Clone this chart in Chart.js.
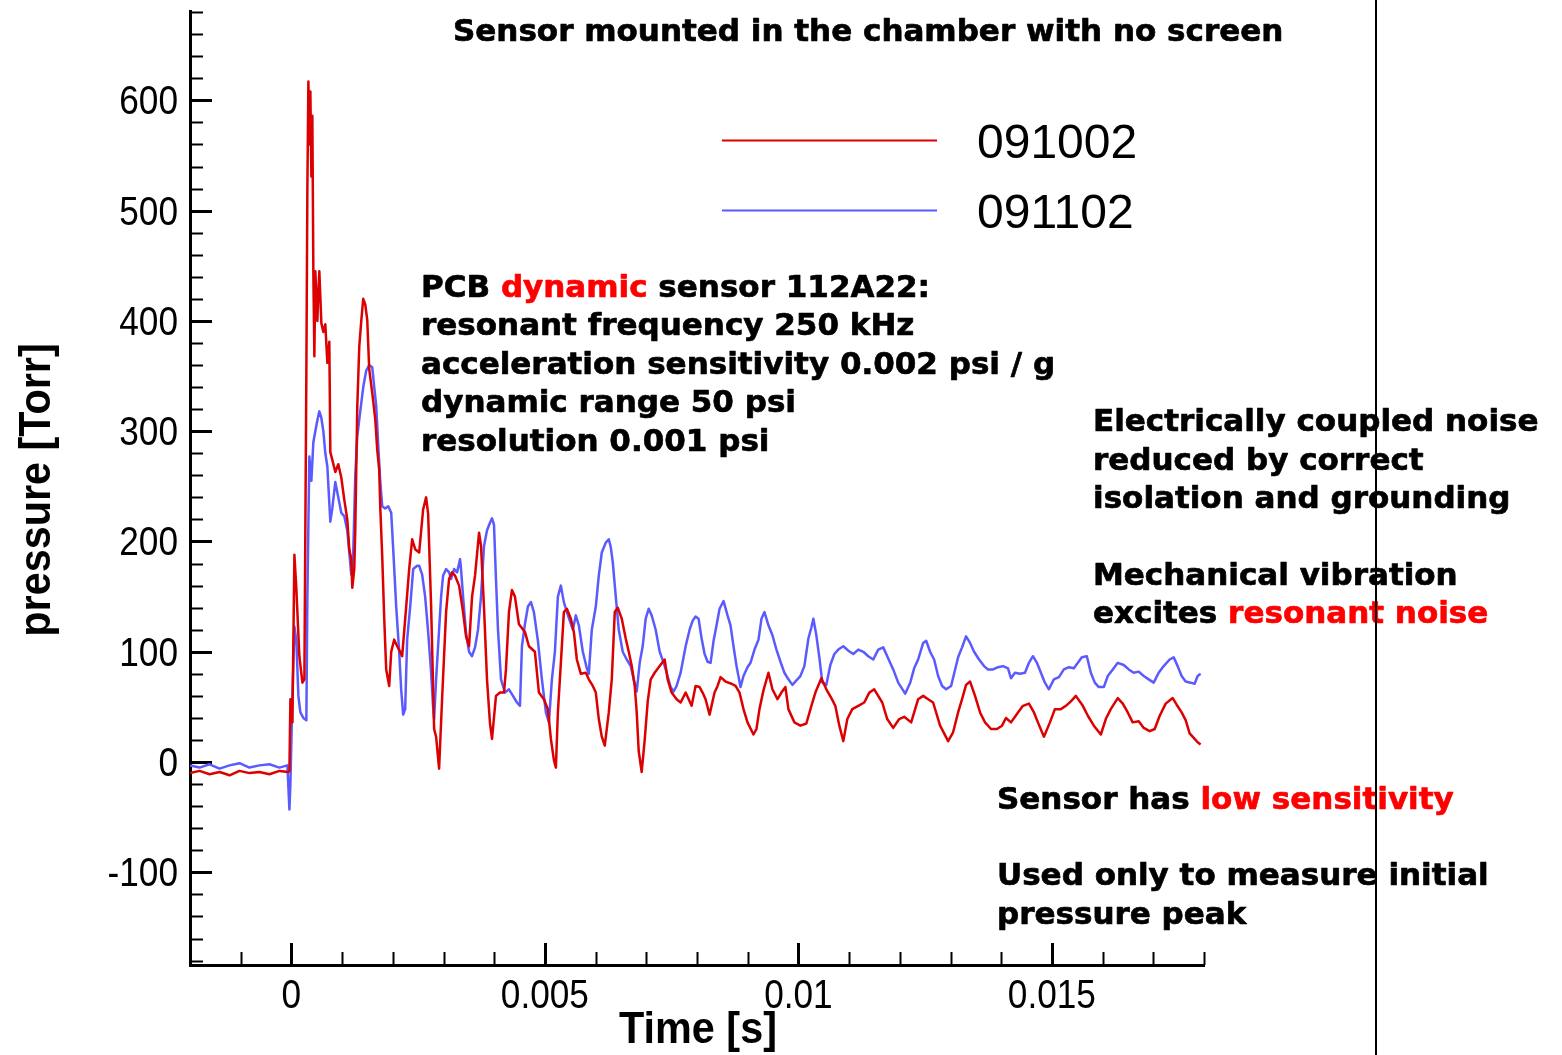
<!DOCTYPE html>
<html>
<head>
<meta charset="utf-8">
<script src="https://cdn.jsdelivr.net/npm/chart.js@4.4.1/dist/chart.umd.min.js"></script>
<style>
  html, body { margin: 0; padding: 0; background: #ffffff; }
  #wrap { width: 1562px; height: 1055px; position: relative; }
</style>
</head>
<body>
<div id="wrap"><canvas id="c" width="1562" height="1055"></canvas></div>
<script>
// Pressure traces of two shots, time in milliseconds, pressure in Torr.
const shotLabels = ['091002', '091102'];

const redTimeMs = [
  -2.0, -1.811, -1.614, -1.417, -1.22, -1.024, -0.827, -0.63, -0.433, -0.236,
  -0.059, -0.039, -0.02, 0.02, 0.059, 0.098, 0.157, 0.217, 0.256, 0.295,
  0.315, 0.335, 0.354, 0.374, 0.394, 0.413, 0.433, 0.453, 0.472, 0.512,
  0.531, 0.551, 0.591, 0.63, 0.669, 0.709, 0.748, 0.768, 0.807, 0.866,
  0.925, 0.984, 1.043, 1.102, 1.142, 1.181, 1.201, 1.24, 1.26, 1.299,
  1.339, 1.378, 1.417, 1.457, 1.496, 1.535, 1.594, 1.654, 1.693, 1.732,
  1.752, 1.791, 1.831, 1.87, 1.929, 1.969, 2.028, 2.087, 2.146, 2.185,
  2.264, 2.323, 2.382, 2.441, 2.52, 2.598, 2.657, 2.697, 2.756, 2.815,
  2.854, 2.913, 2.972, 3.051, 3.11, 3.169, 3.228, 3.307, 3.386, 3.445,
  3.504, 3.563, 3.622, 3.701, 3.74, 3.799, 3.858, 3.917, 3.957, 4.035,
  4.114, 4.193, 4.232, 4.291, 4.35, 4.409, 4.488, 4.606, 4.685, 4.803,
  4.882, 4.98, 5.059, 5.118, 5.177, 5.217, 5.256, 5.315, 5.374, 5.433,
  5.512, 5.571, 5.63, 5.709, 5.807, 5.866, 5.945, 6.004, 6.063, 6.122,
  6.181, 6.26, 6.319, 6.378, 6.437, 6.516, 6.594, 6.654, 6.713, 6.772,
  6.811, 6.85, 6.909, 6.968, 7.028, 7.087, 7.165, 7.264, 7.362, 7.421,
  7.5, 7.598, 7.677, 7.776, 7.894, 7.972, 8.051, 8.11, 8.169, 8.248,
  8.346, 8.406, 8.465, 8.563, 8.681, 8.76, 8.839, 8.917, 8.996, 9.114,
  9.173, 9.232, 9.311, 9.409, 9.488, 9.587, 9.665, 9.744, 9.803, 9.921,
  10.039, 10.157, 10.256, 10.335, 10.453, 10.551, 10.65, 10.728, 10.807, 10.886,
  10.965, 11.063, 11.181, 11.299, 11.398, 11.496, 11.654, 11.752, 11.87, 11.988,
  12.087, 12.224, 12.362, 12.461, 12.559, 12.657, 12.795, 12.953, 13.051, 13.15,
  13.228, 13.307, 13.386, 13.484, 13.583, 13.681, 13.799, 13.917, 14.016, 14.094,
  14.193, 14.331, 14.429, 14.547, 14.646, 14.724, 14.843, 14.961, 15.059, 15.177,
  15.276, 15.374, 15.472, 15.61, 15.709, 15.827, 15.965, 16.063, 16.161, 16.299,
  16.398, 16.496, 16.594, 16.713, 16.811, 16.929, 17.028, 17.126, 17.244, 17.382,
  17.461, 17.559, 17.638, 17.717, 17.815, 17.874, 17.933
];
const redTorr = [
  -10, -8, -11, -9, -12, -8, -10, -9, -11, -8,
  -9, -8, 57, 36, 188, 157, 96, 72, 75, 353,
  520, 617, 560, 608, 531, 586, 444, 368, 445, 400,
  426, 445, 398, 390, 397, 362, 381, 281, 274, 263,
  270, 258, 238, 220, 193, 184, 158, 175, 211, 322,
  377, 400, 420, 415, 401, 356, 335, 311, 283, 265,
  232, 187, 130, 84, 69, 100, 111, 105, 100, 96,
  141, 175, 202, 193, 190, 229, 240, 225, 141, 30,
  23, -6, 57, 136, 166, 172, 169, 160, 136, 114,
  105, 150, 169, 208, 196, 140, 75, 35, 21, 60,
  63, 63, 84, 136, 156, 150, 125, 118, 105, 100,
  63, 57, 48, 21, 2, -5, 45, 90, 136, 139,
  130, 118, 93, 80, 81, 75, 69, 63, 39, 23,
  15, 45, 75, 136, 140, 130, 112, 100, 87, 69,
  45, 10, -9, 20, 55, 75, 81, 87, 93, 75,
  63, 57, 54, 63, 51, 69, 68, 63, 57, 43,
  63, 69, 77, 73, 71, 69, 63, 48, 36, 25,
  30, 48, 65, 81, 66, 57, 63, 68, 48, 36,
  33, 35, 51, 63, 76, 66, 58, 51, 33, 19,
  39, 48, 51, 54, 63, 66, 54, 39, 31, 39,
  41, 36, 57, 60, 57, 54, 33, 19, 27, 45,
  57, 70, 73, 60, 45, 36, 30, 30, 33, 40,
  36, 45, 51, 53, 45, 36, 23, 36, 48, 48,
  51, 55, 60, 51, 42, 33, 25, 39, 48, 58,
  53, 45, 36, 37, 31, 28, 30, 42, 53, 58,
  52, 45, 38, 26, 21, 18, 16
];

const blueTimeMs = [
  -2.0, -1.811, -1.614, -1.417, -1.22, -1.024, -0.827, -0.63, -0.433, -0.236,
  -0.079, -0.039, -0.02, 0.02, 0.059, 0.098, 0.138, 0.177, 0.236, 0.295,
  0.315, 0.354, 0.394, 0.433, 0.472, 0.512, 0.551, 0.591, 0.63, 0.669,
  0.709, 0.768, 0.807, 0.866, 0.925, 0.984, 1.043, 1.102, 1.142, 1.181,
  1.22, 1.26, 1.299, 1.358, 1.417, 1.476, 1.535, 1.594, 1.634, 1.673,
  1.713, 1.752, 1.791, 1.85, 1.909, 1.969, 2.008, 2.067, 2.126, 2.165,
  2.205, 2.244, 2.283, 2.343, 2.402, 2.48, 2.52, 2.579, 2.638, 2.697,
  2.756, 2.795, 2.815, 2.854, 2.913, 2.953, 2.992, 3.051, 3.11, 3.15,
  3.209, 3.268, 3.327, 3.346, 3.386, 3.445, 3.504, 3.563, 3.622, 3.681,
  3.74, 3.799, 3.858, 3.917, 3.957, 3.996, 4.035, 4.075, 4.134, 4.213,
  4.291, 4.37, 4.449, 4.508, 4.547, 4.606, 4.665, 4.724, 4.783, 4.862,
  4.941, 5.02, 5.079, 5.138, 5.197, 5.256, 5.315, 5.374, 5.433, 5.492,
  5.551, 5.61, 5.669, 5.748, 5.827, 5.866, 5.925, 6.004, 6.063, 6.122,
  6.201, 6.26, 6.299, 6.339, 6.398, 6.457, 6.535, 6.614, 6.693, 6.752,
  6.811, 6.87, 6.929, 6.988, 7.047, 7.106, 7.185, 7.264, 7.343, 7.402,
  7.48, 7.539, 7.598, 7.677, 7.776, 7.854, 7.913, 7.972, 8.031, 8.091,
  8.15, 8.209, 8.268, 8.327, 8.386, 8.445, 8.524, 8.602, 8.661, 8.72,
  8.78, 8.858, 8.917, 8.996, 9.055, 9.134, 9.213, 9.272, 9.331, 9.409,
  9.488, 9.567, 9.646, 9.724, 9.803, 9.882, 9.961, 10.039, 10.118, 10.197,
  10.256, 10.295, 10.354, 10.413, 10.472, 10.551, 10.63, 10.709, 10.787, 10.886,
  10.984, 11.083, 11.181, 11.28, 11.378, 11.476, 11.575, 11.673, 11.772, 11.87,
  11.969, 12.106, 12.205, 12.283, 12.362, 12.461, 12.52, 12.598, 12.677, 12.756,
  12.835, 12.913, 13.012, 13.091, 13.15, 13.228, 13.307, 13.386, 13.465, 13.563,
  13.661, 13.74, 13.839, 13.937, 14.035, 14.134, 14.193, 14.272, 14.37, 14.469,
  14.547, 14.626, 14.705, 14.783, 14.862, 14.941, 15.039, 15.138, 15.236, 15.335,
  15.433, 15.512, 15.591, 15.689, 15.768, 15.846, 15.925, 16.024, 16.102, 16.201,
  16.299, 16.417, 16.516, 16.614, 16.713, 16.811, 16.909, 17.008, 17.106, 17.205,
  17.323, 17.402, 17.48, 17.559, 17.638, 17.736, 17.815, 17.874, 17.933
];
const blueTorr = [
  -3, -5, -2, -6, -3, -1, -5, -3, -2, -5,
  -3, -43, -20, 60, 123, 110, 60, 45, 40, 38,
  150, 277, 255, 290, 300, 310, 318, 312, 300, 280,
  268, 218, 230, 254, 240, 226, 223, 210, 190, 170,
  190, 260, 295, 318, 340, 355, 360, 358, 340, 323,
  287, 255, 232, 230, 232, 226, 193, 141, 100, 66,
  43, 48, 111, 141, 175, 178, 178, 170, 150, 118,
  81, 50, 39, 75, 120, 150, 169, 175, 172, 166,
  175, 172, 184, 175, 150, 117, 100, 96, 104, 120,
  150, 196, 210, 217, 221, 215, 166, 120, 75, 63,
  66, 60, 54, 51, 105, 125, 141, 145, 136, 110,
  75, 45, 36, 75, 100, 150, 160, 145, 136, 128,
  120, 133, 124, 100, 85, 80, 120, 141, 169, 190,
  199, 202, 195, 181, 150, 120, 100, 93, 87, 75,
  64, 90, 105, 130, 139, 133, 120, 100, 90, 81,
  68, 64, 69, 81, 105, 120, 128, 132, 130, 112,
  98, 91, 90, 110, 124, 139, 146, 133, 124, 105,
  87, 68, 78, 86, 90, 102, 111, 130, 136, 124,
  115, 102, 91, 81, 75, 70, 74, 78, 87, 112,
  122, 130, 115, 95, 72, 70, 88, 98, 102, 105,
  101, 98, 102, 100, 96, 93, 102, 104, 94, 84,
  72, 62, 72, 85, 93, 108, 110, 100, 93, 78,
  69, 66, 69, 84, 95, 104, 114, 108, 100, 93,
  87, 84, 84, 86, 87, 85, 76, 81, 80, 81,
  90, 96, 90, 81, 72, 66, 75, 77, 84, 86,
  85, 90, 95, 96, 81, 72, 68, 68, 78, 84,
  90, 88, 84, 81, 82, 78, 75, 72, 81, 87,
  93, 95, 87, 78, 73, 72, 71, 78, 80
];

// Axis tick values, labels and titles
const yTickValues = [-100, 0, 100, 200, 300, 400, 500, 600];
const yTickLabels = ['-100', '0', '100', '200', '300', '400', '500', '600'];
const xTickValues = [0, 0.005, 0.01, 0.015];
const xTickLabels = ['0', '0.005', '0.01', '0.015'];
const xTitle = 'Time [s]';
const yTitle = 'pressure [Torr]';

const RED = '#dc0000';
const BLUE = '#5a5aff';
const NOTE_RED = '#ff0000';

function toPoints(tMs, vals) {
  return tMs.map((t, i) => ({ x: t / 1000, y: vals[i] }));
}

const SANS = "'Liberation Sans', Arial, Helvetica, sans-serif";
const BOLDFACE = "'DejaVu Sans', Verdana, sans-serif";

// Text squeezed horizontally, like the plotting package's narrow stroke font
function narrowText(ctx, txt, x, y, sx, align, rot) {
  ctx.save();
  ctx.translate(x, y);
  if (rot) ctx.rotate(rot);
  ctx.scale(sx, 1);
  ctx.textAlign = align;
  ctx.fillText(txt, 0, 0);
  ctx.restore();
}

// Inward major/minor tick marks plus axis labels, placed by the chart's scales
const axisDecor = {
  id: 'axisDecor',
  beforeDatasetsDraw(chart) {
    const { ctx, scales: { x, y }, chartArea: a } = chart;
    ctx.save();
    ctx.strokeStyle = '#000';
    ctx.lineCap = 'butt';
    for (let v = -180; v <= 680; v += 20) {
      const py = Math.round(y.getPixelForValue(v)) + 0.5;
      const major = v % 100 === 0;
      ctx.lineWidth = major ? 3 : 2;
      ctx.beginPath();
      ctx.moveTo(a.left, py);
      ctx.lineTo(a.left + (major ? 22 : 13), py);
      ctx.stroke();
    }
    for (let m = -1; m <= 18; m += 1) {
      const px = Math.round(x.getPixelForValue(m / 1000)) + 0.5;
      const major = m % 5 === 0;
      ctx.lineWidth = major ? 3 : 2;
      ctx.beginPath();
      ctx.moveTo(px, a.bottom);
      ctx.lineTo(px, a.bottom - (major ? 22 : 13));
      ctx.stroke();
    }

    ctx.fillStyle = '#000';
    ctx.textBaseline = 'alphabetic';
    ctx.font = '40px ' + SANS;
    yTickValues.forEach((v, i) => {
      narrowText(ctx, yTickLabels[i], a.left - 12, y.getPixelForValue(v) + 14, 0.88, 'right');
    });
    xTickValues.forEach((v, i) => {
      narrowText(ctx, xTickLabels[i], x.getPixelForValue(v), a.bottom + 43, 0.88, 'center');
    });

    ctx.font = 'bold 44px ' + SANS;
    narrowText(ctx, xTitle, (a.left + a.right) / 2 + 1, 1043, 0.94, 'center');
    narrowText(ctx, yTitle, 50, (a.top + a.bottom) / 2 + 2, 0.94, 'center', -Math.PI / 2);
    ctx.restore();
  }
};

// Legend, title, notes and the divider line
const overlay = {
  id: 'overlay',
  afterDraw(chart) {
    const ctx = chart.ctx;
    const ds = chart.data.datasets;
    ctx.save();

    const legendRows = [140, 210];
    ds.forEach((d, i) => {
      ctx.strokeStyle = d.borderColor;
      ctx.lineWidth = 2;
      ctx.beginPath();
      ctx.moveTo(722, legendRows[i] + 0.5);
      ctx.lineTo(937, legendRows[i] + 0.5);
      ctx.stroke();
      ctx.fillStyle = '#000';
      ctx.font = '48px ' + SANS;
      ctx.textBaseline = 'alphabetic';
      ctx.textAlign = 'left';
      ctx.fillText(d.label, 977, legendRows[i] + 18);
    });

    ctx.font = 'bold 31px ' + BOLDFACE;
    ctx.textBaseline = 'alphabetic';
    ctx.textAlign = 'left';
    ctx.lineJoin = 'round';
    ctx.lineWidth = 0.7;
    const K = '#000';
    const notes = [
      [453, 41, [['Sensor mounted in the chamber with no screen', K]]],
      [421, 297, [['PCB ', K], ['dynamic', NOTE_RED], [' sensor 112A22:', K]]],
      [421, 335, [['resonant frequency 250 kHz', K]]],
      [421, 374, [['acceleration sensitivity 0.002 psi / g', K]]],
      [421, 412, [['dynamic range 50 psi', K]]],
      [421, 451, [['resolution 0.001 psi', K]]],
      [1093, 431, [['Electrically coupled noise', K]]],
      [1093, 470, [['reduced by correct', K]]],
      [1093, 508, [['isolation and grounding', K]]],
      [1093, 585, [['Mechanical vibration', K]]],
      [1093, 623, [['excites ', K], ['resonant noise', NOTE_RED]]],
      [997, 809, [['Sensor has ', K], ['low sensitivity', NOTE_RED]]],
      [997, 885, [['Used only to measure initial', K]]],
      [997, 924, [['pressure peak', K]]]
    ];
    notes.forEach(([x0, y0, parts]) => {
      let xx = x0;
      parts.forEach(([txt, col]) => {
        ctx.fillStyle = col;
        ctx.strokeStyle = col;
        ctx.fillText(txt, xx, y0);
        ctx.strokeText(txt, xx, y0);
        xx += ctx.measureText(txt).width;
      });
    });

    ctx.strokeStyle = '#000';
    ctx.lineWidth = 2;
    ctx.beginPath();
    ctx.moveTo(1376, 0);
    ctx.lineTo(1376, 1055);
    ctx.stroke();
    ctx.restore();
  }
};

new Chart(document.getElementById('c'), {
  type: 'line',
  data: {
    datasets: [
      { label: shotLabels[0], data: toPoints(redTimeMs, redTorr), borderColor: RED },
      { label: shotLabels[1], data: toPoints(blueTimeMs, blueTorr), borderColor: BLUE }
    ]
  },
  options: {
    responsive: false,
    devicePixelRatio: 1,
    animation: false,
    parsing: false,
    elements: {
      point: { radius: 0 },
      line: { borderWidth: 2.5, tension: 0, borderJoinStyle: 'round', fill: false }
    },
    layout: { padding: { left: 0, top: 11, right: 358, bottom: 0 } },
    plugins: { legend: { display: false }, tooltip: { enabled: false } },
    scales: {
      x: {
        type: 'linear',
        min: -0.002,
        max: 0.018,
        grid: { display: false, drawTicks: false },
        border: { display: true, color: '#000', width: 3 },
        ticks: { display: false },
        afterBuildTicks(scale) { scale.ticks = xTickValues.map(v => ({ value: v })); },
        afterFit(scale) {
          scale.height = 90;
          scale.paddingLeft = 0; scale.paddingRight = 0;
          scale.paddingTop = 0; scale.paddingBottom = 0;
        },
        title: { display: false }
      },
      y: {
        min: -184,
        max: 681,
        grid: { display: false, drawTicks: false },
        border: { display: true, color: '#000', width: 3 },
        ticks: { display: false },
        afterBuildTicks(scale) { scale.ticks = yTickValues.map(v => ({ value: v })); },
        afterFit(scale) {
          scale.width = 190;
          scale.paddingLeft = 0; scale.paddingRight = 0;
          scale.paddingTop = 0; scale.paddingBottom = 0;
        },
        title: { display: false }
      }
    }
  },
  plugins: [axisDecor, overlay]
});
</script>
</body>
</html>
